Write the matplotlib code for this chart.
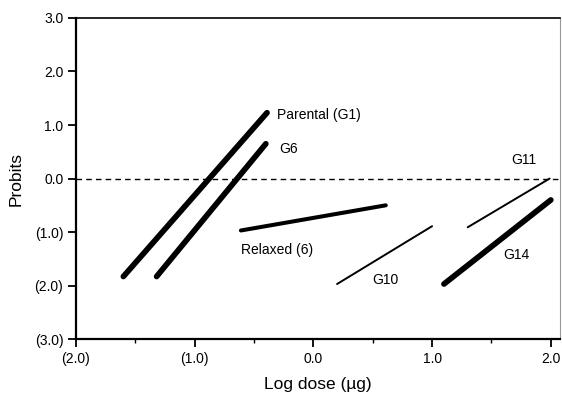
import matplotlib
matplotlib.use("Agg")
import matplotlib.pyplot as plt
from matplotlib.ticker import FuncFormatter, MultipleLocator

plt.rcParams.update({
    "font.family": ["Liberation Sans", "DejaVu Sans"],
    "font.size": 10,
})

# probit regression lines: (start x, start y, end x, end y)
names = ["Parental (G1)", "G6", "Relaxed (6)", "G10", "G11", "G14"]
x_start = [-1.60, -1.32, -0.61, 0.20, 1.30, 1.10]
y_start = [-1.83, -1.83, -0.97, -1.97, -0.91, -1.97]
x_end = [-0.39, -0.40, 0.61, 1.00, 1.99, 2.00]
y_end = [1.23, 0.65, -0.50, -0.89, 0.00, -0.40]
widths = [4.1, 4.1, 2.9, 1.4, 1.4, 4.1]

# label positions (data coords, left/center anchored)
label_x = [-0.31, -0.29, -0.61, 0.50, 1.67, 1.60]
label_y = [1.18, 0.55, -1.33, -1.89, 0.34, -1.43]

fig = plt.figure(figsize=(5.62, 3.99), dpi=100)
ax = fig.add_axes([0.135, 0.150, 0.862, 0.805])

for i in range(len(names)):
    ax.plot([x_start[i], x_end[i]], [y_start[i], y_end[i]], color="black",
            linewidth=widths[i], solid_capstyle="round")
    ax.text(label_x[i], label_y[i], names[i], ha="left", va="center", fontsize=10)

ax.axhline(0, color="black", linewidth=1.0, linestyle=(0, (4, 3)))

ax.set_xlim(-2.0, 2.08)
ax.set_ylim(-3.0, 3.0)
ax.xaxis.set_major_locator(MultipleLocator(1.0))
ax.xaxis.set_minor_locator(MultipleLocator(0.5))
ax.yaxis.set_major_locator(MultipleLocator(1.0))


def paren(v, pos):
    if v < 0:
        return "({:.1f})".format(abs(v))
    return "{:.1f}".format(v)


ax.xaxis.set_major_formatter(FuncFormatter(paren))
ax.yaxis.set_major_formatter(FuncFormatter(paren))

ax.tick_params(axis="both", which="major", direction="out", length=6, width=1.3, labelsize=10, pad=3)
ax.tick_params(axis="x", which="minor", direction="out", length=3, width=1.0)

for s in ["left", "bottom"]:
    ax.spines[s].set_linewidth(1.6)
ax.spines["top"].set_linewidth(1.2)
ax.spines["right"].set_linewidth(0.8)
ax.spines["right"].set_color("#999999")

ax.set_xlabel("Log dose (µg)", fontsize=12.5, labelpad=8)
ax.set_ylabel("Probits", fontsize=12.5, labelpad=8)

fig.savefig("out.png", dpi=100)
